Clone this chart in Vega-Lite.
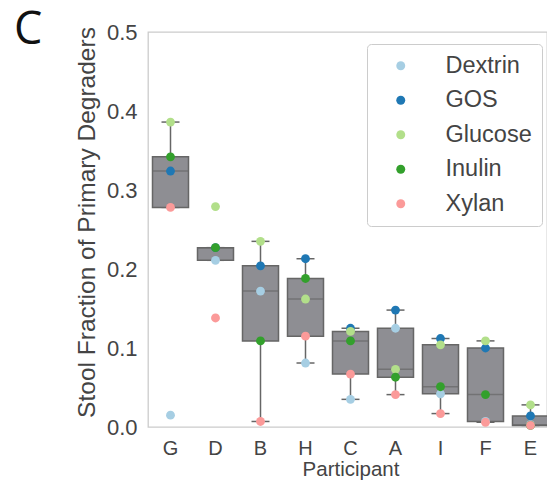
{
  "$schema": "https://vega.github.io/schema/vega-lite/v6.json",
  "autosize": {"type": "none"},
  "padding": {"left": 148, "top": 32, "right": 0, "bottom": 62},
  "width": 399,
  "height": 395,
  "title": {"text": "C", "anchor": "start", "frame": "group", "orient": "top", "offset": -32, "dx": -134, "baseline": "top", "fontSize": 45, "fontWeight": "normal", "font": "Open Sans", "color": "#111"},
  "config": {
    "font": "Liberation Sans",
    "view": {"stroke": "#cccccc", "strokeWidth": 1.3},
    "axis": {"labelFont": "Liberation Sans", "titleFont": "Liberation Sans", "labelColor": "#444", "titleColor": "#444", "labelFontSize": 21, "titleFontSize": 21, "titleFontWeight": "normal", "domain": false, "ticks": false, "grid": false},
    "legend": {"labelFont": "Liberation Sans", "labelFontSize": 23.5, "labelColor": "#444"}
  },
  "data": {"values": [
    {"p": "G", "s": "Dextrin", "v": 0.015}, {"p": "G", "s": "GOS", "v": 0.324}, {"p": "G", "s": "Glucose", "v": 0.386}, {"p": "G", "s": "Inulin", "v": 0.342}, {"p": "G", "s": "Xylan", "v": 0.278},
    {"p": "D", "s": "Dextrin", "v": 0.211}, {"p": "D", "s": "GOS", "v": 0.227}, {"p": "D", "s": "Glucose", "v": 0.279}, {"p": "D", "s": "Inulin", "v": 0.227}, {"p": "D", "s": "Xylan", "v": 0.138},
    {"p": "B", "s": "Dextrin", "v": 0.172}, {"p": "B", "s": "GOS", "v": 0.204}, {"p": "B", "s": "Glucose", "v": 0.235}, {"p": "B", "s": "Inulin", "v": 0.109}, {"p": "B", "s": "Xylan", "v": 0.007},
    {"p": "H", "s": "Dextrin", "v": 0.081}, {"p": "H", "s": "GOS", "v": 0.213}, {"p": "H", "s": "Glucose", "v": 0.162}, {"p": "H", "s": "Inulin", "v": 0.188}, {"p": "H", "s": "Xylan", "v": 0.115},
    {"p": "C", "s": "Dextrin", "v": 0.035}, {"p": "C", "s": "GOS", "v": 0.125}, {"p": "C", "s": "Glucose", "v": 0.121}, {"p": "C", "s": "Inulin", "v": 0.109}, {"p": "C", "s": "Xylan", "v": 0.067},
    {"p": "A", "s": "Dextrin", "v": 0.125}, {"p": "A", "s": "GOS", "v": 0.148}, {"p": "A", "s": "Glucose", "v": 0.073}, {"p": "A", "s": "Inulin", "v": 0.063}, {"p": "A", "s": "Xylan", "v": 0.041},
    {"p": "I", "s": "Dextrin", "v": 0.042}, {"p": "I", "s": "GOS", "v": 0.112}, {"p": "I", "s": "Glucose", "v": 0.104}, {"p": "I", "s": "Inulin", "v": 0.051}, {"p": "I", "s": "Xylan", "v": 0.017},
    {"p": "F", "s": "Dextrin", "v": 0.007}, {"p": "F", "s": "GOS", "v": 0.100}, {"p": "F", "s": "Glucose", "v": 0.109}, {"p": "F", "s": "Inulin", "v": 0.041}, {"p": "F", "s": "Xylan", "v": 0.006},
    {"p": "E", "s": "Dextrin", "v": 0.003}, {"p": "E", "s": "GOS", "v": 0.014}, {"p": "E", "s": "Glucose", "v": 0.028}, {"p": "E", "s": "Inulin", "v": 0.002}, {"p": "E", "s": "Xylan", "v": 0.002}
  ]},
  "encoding": {
    "x": {"field": "p", "type": "nominal", "title": "Participant",
      "scale": {"domain": ["G", "D", "B", "H", "C", "A", "I", "F", "E"], "range": [0, 405], "paddingInner": 0, "paddingOuter": 0},
      "axis": {"labelAngle": 0, "labelPadding": 11, "titlePadding": 1, "labelFontSize": 20, "titleFontSize": 20.5}},
    "y": {"field": "v", "type": "quantitative", "title": "Stool Fraction of Primary Degraders",
      "scale": {"domain": [0, 0.5], "nice": false},
      "axis": {"values": [0, 0.1, 0.2, 0.3, 0.4, 0.5], "format": ".1f", "labelPadding": 11, "labelFontSize": 22, "titlePadding": 7, "titleFontSize": 24.5, "titleY": 190}}
  },
  "layer": [
    {
      "mark": {"type": "boxplot", "extent": 1.5, "size": 36, "outliers": false, "color": "#8e8e93",
        "box": {"stroke": "#666666", "strokeWidth": 1.5},
        "median": {"color": "#666666", "thickness": 1.5},
        "rule": {"color": "#666666", "strokeWidth": 1.5},
        "ticks": {"color": "#666666", "size": 18, "thickness": 1.5}}
    },
    {
      "mark": {"type": "point", "filled": true, "opacity": 1, "size": 78},
      "encoding": {
        "color": {"field": "s", "type": "nominal",
          "scale": {"domain": ["Dextrin", "GOS", "Glucose", "Inulin", "Xylan"], "range": ["#a6cee3", "#1f78b4", "#b2df8a", "#33a02c", "#fb9a99"]},
          "legend": {"title": null, "orient": "none", "legendX": 219, "legendY": 12, "padding": 10, "symbolType": "circle", "symbolSize": 80, "symbolOffset": 12, "labelOffset": 33, "rowPadding": 9.5, "strokeColor": "#cccccc", "cornerRadius": 4, "fillColor": "white"}}
      }
    }
  ]
}
